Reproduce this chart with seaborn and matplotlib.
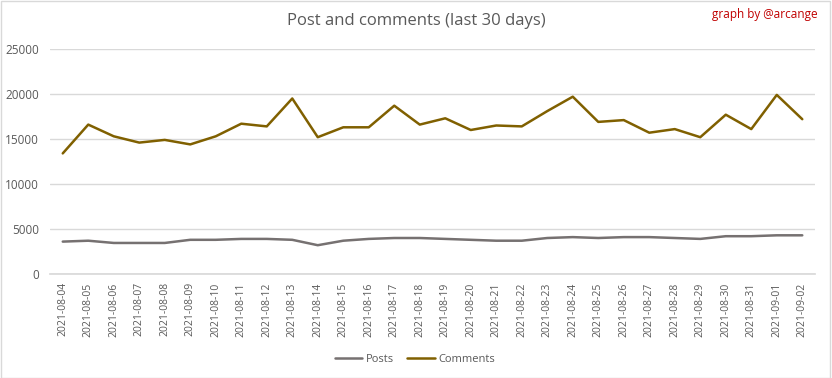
import numpy as np
import pandas as pd
import matplotlib
matplotlib.use("Agg")
import matplotlib.pyplot as plt
import seaborn as sns

dates = ["2021-08-04", "2021-08-05", "2021-08-06", "2021-08-07", "2021-08-08",
         "2021-08-09", "2021-08-10", "2021-08-11", "2021-08-12", "2021-08-13",
         "2021-08-14", "2021-08-15", "2021-08-16", "2021-08-17", "2021-08-18",
         "2021-08-19", "2021-08-20", "2021-08-21", "2021-08-22", "2021-08-23",
         "2021-08-24", "2021-08-25", "2021-08-26", "2021-08-27", "2021-08-28",
         "2021-08-29", "2021-08-30", "2021-08-31", "2021-09-01", "2021-09-02"]
posts = [3600, 3700, 3450, 3450, 3450, 3800, 3800, 3900, 3900, 3800,
         3200, 3700, 3900, 4000, 4000, 3900, 3800, 3700, 3700, 4000,
         4100, 4000, 4100, 4100, 4000, 3900, 4200, 4200, 4300, 4300]
comments = [13400, 16600, 15300, 14600, 14900, 14400, 15300, 16700, 16400, 19500,
            15200, 16300, 16300, 18700, 16600, 17300, 16000, 16500, 16400, 18100,
            19700, 16900, 17100, 15700, 16100, 15200, 17700, 16100, 19900, 17200]

sns.set_theme(style="white")
plt.rcParams['font.family'] = ['Open Sans', 'DejaVu Sans']

df = pd.DataFrame({"date": dates * 2,
                   "value": posts + comments,
                   "series": ["Posts"] * len(dates) + ["Comments"] * len(dates)})

fig = plt.figure(figsize=(8.32, 3.78), dpi=100)
ax = fig.add_axes([0.0601, 0.2751, 0.9195, 0.5953])
sns.lineplot(data=df, x="date", y="value", hue="series", ax=ax,
             palette={"Posts": "#767171", "Comments": "#806000"}, linewidth=1.8,
             legend=True)

ax.set_xlim(-0.5, len(dates) - 0.5)
ax.set_ylim(0, 25000)
ax.set_yticks(np.arange(0, 25001, 5000))
ax.yaxis.grid(True, color="#d9d9d9", linewidth=1)
ax.set_axisbelow(True)
for s in ["top", "left", "right"]:
    ax.spines[s].set_visible(False)
ax.spines["bottom"].set_color("#d9d9d9")
ax.tick_params(axis="x", labelrotation=90, labelsize=7.5, colors="#595959", length=0, pad=6)
ax.tick_params(axis="y", labelsize=8.5, colors="#595959", length=0, pad=8)
ax.set_xlabel("")
ax.set_ylabel("")

leg = ax.legend(loc="upper center", bbox_to_anchor=(0.477, -0.31), ncol=2, frameon=False,
                fontsize=8, handlelength=2.5, handletextpad=0.3, columnspacing=1.2)
for t in leg.get_texts():
    t.set_color("#595959")

fig.text(0.5, 0.945, "Post and comments (last 30 days)", ha="center", va="center",
         fontsize=12, color="#595959")
fig.text(0.983, 0.962, "graph by @arcange", ha="right", va="center",
         fontsize=8.5, color="#c00000")

fig.patches.append(plt.Rectangle((0.001, 0.001), 0.997, 0.997, transform=fig.transFigure,
                                 fill=False, edgecolor="#d9d9d9", linewidth=1))
plt.savefig("out.png", dpi=100)
plt.close()
